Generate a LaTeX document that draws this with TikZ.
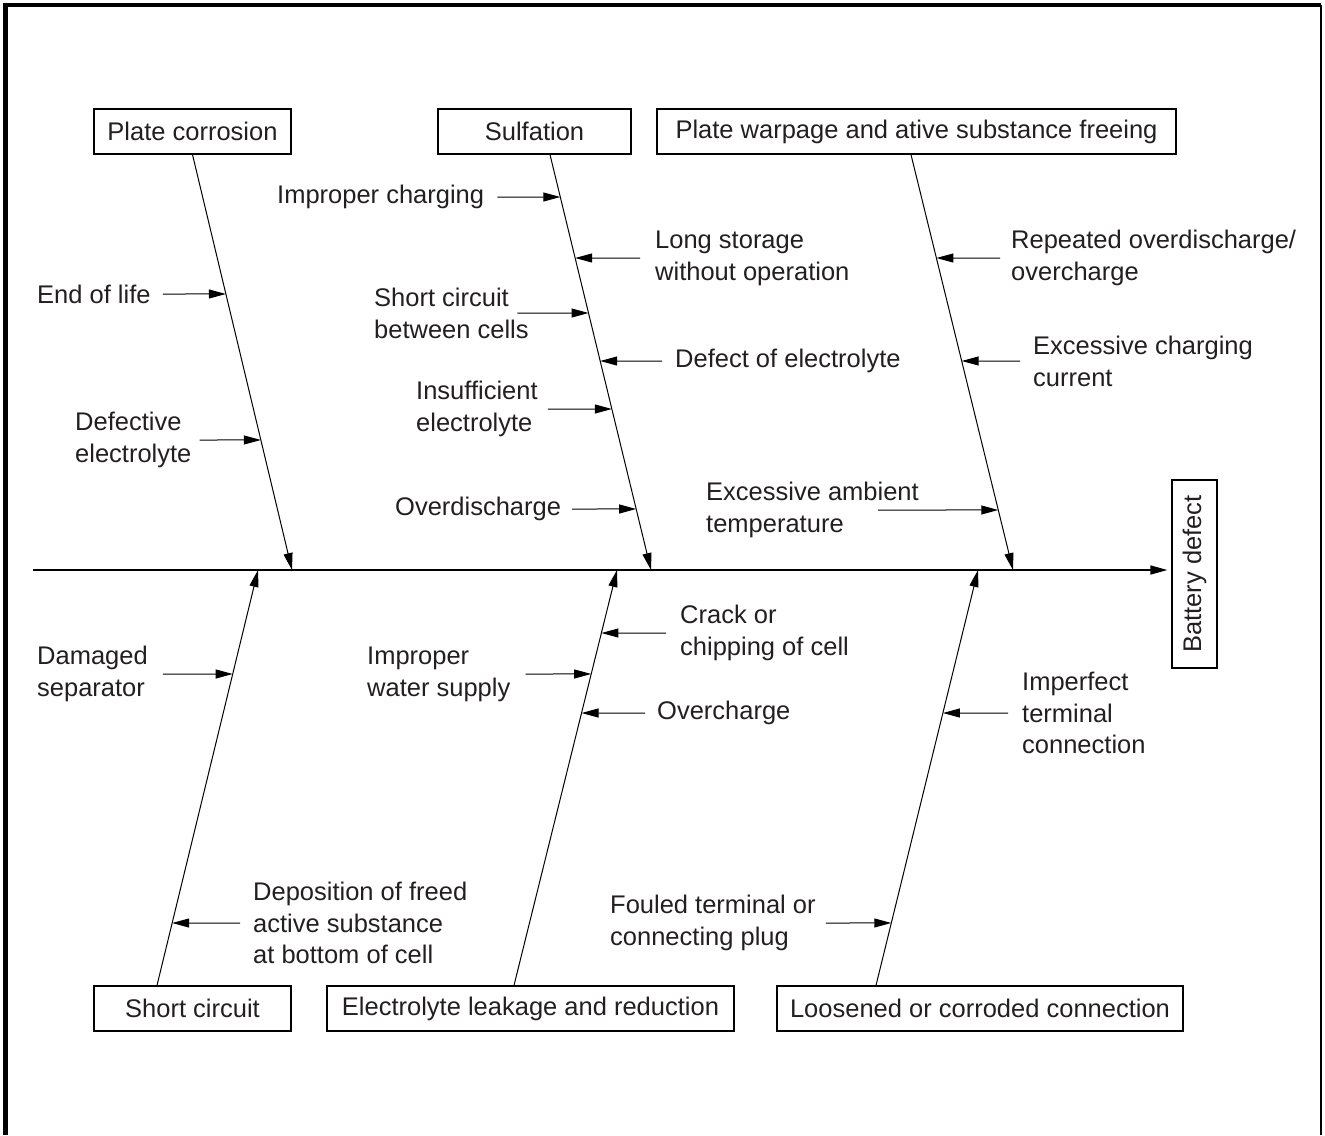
\documentclass[tikz,border=0pt]{standalone}
\usepackage{fontspec}
\setmainfont{Liberation Sans}
\usetikzlibrary{arrows.meta}
\definecolor{inkgray}{HTML}{231F20}

\begin{document}
\begin{tikzpicture}[
    x=1pt,
    y=-1pt,
    every node/.style={
        font=\fontsize{25.5}{31.8}\selectfont,
        text=inkgray
    },
    category/.style={
        draw,
        line width=1.3pt,
        minimum height=45pt,
        inner sep=0pt
    },
    reason/.style={
        anchor=west,
        align=left,
        inner sep=0pt
    },
    bone/.style={line width=1pt, -{Triangle[length=17pt,width=9pt]}},
    cause/.style={line width=1pt, -{Triangle[length=17pt,width=9pt]}},
    spine/.style={line width=1.5pt, -{Triangle[length=17pt,width=9pt]}}
]
    \useasboundingbox (0,0) rectangle (1325,1135);

    % frame
    \draw[line width=4.5pt] (5.3,1135) -- (5.3,5) -- (1320.5,5);
    \draw[line width=2pt] (1320.5,5) -- (1320.5,1135);

    % categories and effect
    \node[category, minimum width=197pt] (corrosion) at (192.5,131.5) {Plate corrosion};
    \node[category, minimum width=193pt] (sulfation) at (534.5,131.5) {Sulfation};
    \node[category, minimum width=519pt] (warpage) at (916.5,131.5)
        {Plate warpage and ative substance freeing};
    \node[category, minimum width=197pt] (shortcirc) at (192.5,1008.5) {Short circuit};
    \node[category, minimum width=407pt] (leakage) at (530.5,1008.5)
        {Electrolyte leakage and reduction};
    \node[category, minimum width=406pt] (loosened) at (980,1008.5)
        {Loosened or corroded connection};
    \node[category, rotate=90, minimum width=188pt] (battery) at (1194.5,574) {Battery defect};

    % bone ends
    \coordinate (tail) at (33,570);
    \coordinate (corrA) at (corrosion.south);
    \coordinate (corrB) at (292,570);
    \coordinate (sulfA) at ([xshift=15.5pt]sulfation.south);
    \coordinate (sulfB) at (651,570);
    \coordinate (warpA) at ([xshift=-5.5pt]warpage.south);
    \coordinate (warpB) at (1013,570);
    \coordinate (shcA) at ([xshift=-35.5pt]shortcirc.north);
    \coordinate (shcB) at (258,570);
    \coordinate (leakA) at ([xshift=-16.5pt]leakage.north);
    \coordinate (leakB) at (617,570);
    \coordinate (looseA) at ([xshift=-104pt]loosened.north);
    \coordinate (looseB) at (978,570);

    \draw[spine, shorten >=4pt] (tail) -- (tail -| battery.north);
    \draw[bone] (corrA) -- (corrB);
    \draw[bone] (sulfA) -- (sulfB);
    \draw[bone] (warpA) -- (warpB);
    \draw[bone] (shcA) -- (shcB);
    \draw[bone] (leakA) -- (leakB);
    \draw[bone] (looseA) -- (looseB);

    % plate corrosion
    \node[reason] (endlife) at (37,294) {End of life};
    \node[reason] (defelec) at (75,440) {Defective\\electrolyte};
    \draw[cause] ([xshift=12pt]endlife.east) -- (intersection of corrA--corrB and endlife.west--endlife.east);
    \draw[cause] ([xshift=8pt]defelec.east) -- (intersection of corrA--corrB and defelec.west--defelec.east);

    % sulfation
    \node[reason] (impchg) at (277,197) {Improper charging};
    \node[reason] (longstor) at (655,258) {Long storage\\without operation};
    \node[reason] (shortcell) at (374,313) {Short circuit\\between cells};
    \node[reason] (defectel) at (675,361) {Defect of electrolyte};
    \node[reason] (insuff) at (416,409) {Insufficient\\electrolyte};
    \node[reason] (overdis) at (395,509) {Overdischarge};
    \draw[cause] ([xshift=13pt]impchg.east) -- (intersection of sulfA--sulfB and impchg.west--impchg.east);
    \draw[cause] ([xshift=-15pt]longstor.west) -- (intersection of sulfA--sulfB and longstor.west--longstor.east);
    \draw[cause] ([xshift=-11.5pt]shortcell.east) -- (intersection of sulfA--sulfB and shortcell.west--shortcell.east);
    \draw[cause] ([xshift=-13pt]defectel.west) -- (intersection of sulfA--sulfB and defectel.west--defectel.east);
    \draw[cause] ([xshift=10pt]insuff.east) -- (intersection of sulfA--sulfB and insuff.west--insuff.east);
    \draw[cause] ([xshift=11pt]overdis.east) -- (intersection of sulfA--sulfB and overdis.west--overdis.east);

    % plate warpage
    \node[reason] (repeated) at (1011,258) {Repeated overdischarge/\\overcharge};
    \node[reason] (excharge) at (1033,361) {Excessive charging\\current};
    \node[reason] (exambient) at (706,510) {Excessive ambient\\temperature};
    \draw[cause] ([xshift=-11pt]repeated.west) -- (intersection of warpA--warpB and repeated.west--repeated.east);
    \draw[cause] ([xshift=-13pt]excharge.west) -- (intersection of warpA--warpB and excharge.west--excharge.east);
    \draw[cause] ([xshift=172pt]exambient.west) -- (intersection of warpA--warpB and exambient.west--exambient.east);

    % short circuit
    \node[reason] (damsep) at (37,674) {Damaged\\separator};
    \node[reason] (deposit) at (253,923) {Deposition of freed\\active substance\\at bottom of cell};
    \draw[cause] ([xshift=15pt]damsep.east) -- (intersection of shcA--shcB and damsep.west--damsep.east);
    \draw[cause] ([xshift=-13pt]deposit.west) -- (intersection of shcA--shcB and deposit.west--deposit.east);

    % electrolyte leakage
    \node[reason] (crack) at (680,633) {Crack or\\chipping of cell};
    \node[reason] (impwater) at (367,674) {Improper\\water supply};
    \node[reason] (overchg) at (657,713) {Overcharge};
    \draw[cause] ([xshift=-14pt]crack.west) -- (intersection of leakA--leakB and crack.west--crack.east);
    \draw[cause] ([xshift=15pt]impwater.east) -- (intersection of leakA--leakB and impwater.west--impwater.east);
    \draw[cause] ([xshift=-12pt]overchg.west) -- (intersection of leakA--leakB and overchg.west--overchg.east);

    % loosened connection
    \node[reason] (imperfect) at (1022,713) {Imperfect\\terminal\\connection};
    \node[reason] (fouled) at (610,923) {Fouled terminal or\\connecting plug};
    \draw[cause] ([xshift=-14pt]imperfect.west) -- (intersection of looseA--looseB and imperfect.west--imperfect.east);
    \draw[cause] ([xshift=10pt]fouled.east) -- (intersection of looseA--looseB and fouled.west--fouled.east);
\end{tikzpicture}
\end{document}
